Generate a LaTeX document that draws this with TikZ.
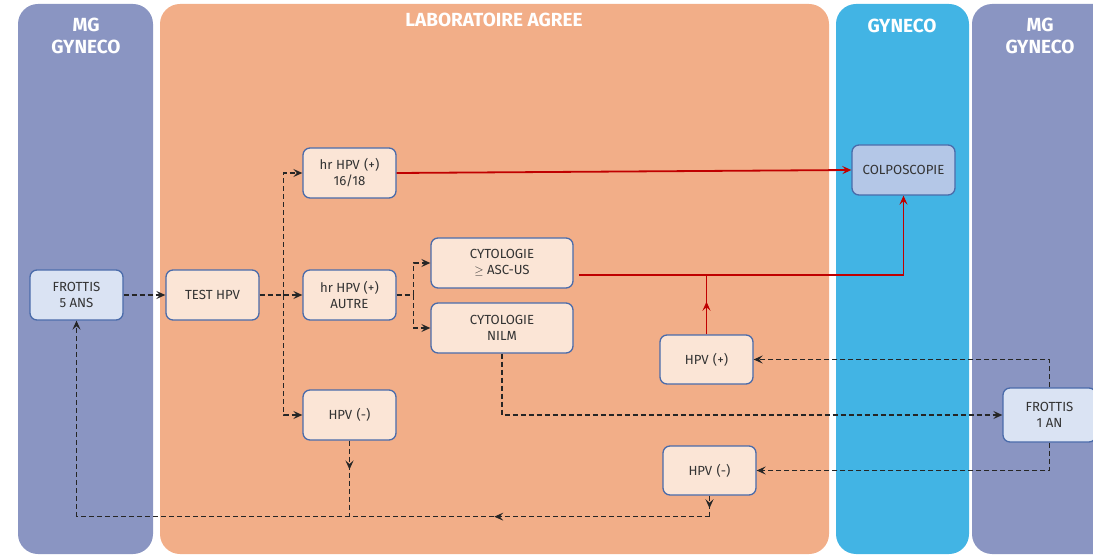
\documentclass[tikz,border=0pt]{standalone}
\usepackage{fontspec}
\setmainfont{Fira Sans}
\usetikzlibrary{arrows.meta,decorations.markings,calc}
\definecolor{lanemg}{HTML}{8A95C2}
\definecolor{lanelab}{HTML}{F2AE88}
\definecolor{lanegyn}{HTML}{42B4E4}
\definecolor{boxfill}{HTML}{FBE5D6}
\definecolor{boxblue}{HTML}{4A6BAA}
\definecolor{frotfill}{HTML}{DAE3F3}
\definecolor{colpfill}{HTML}{B4C7E7}
\definecolor{redcol}{HTML}{C00000}
\definecolor{txt}{HTML}{333333}
\begin{document}
\begin{tikzpicture}[x=1pt,y=-1pt,
  lane/.style={rounded corners=20pt},
  lanetitle/.style={text=white, font=\fontsize{19}{22}\selectfont\bfseries, align=center},
  box/.style={draw=boxblue, line width=1.3pt, rounded corners=7pt, fill=boxfill,
    minimum width=93pt, minimum height=50pt, align=center, inner sep=2pt,
    font=\fontsize{13.2}{16}\selectfont, text=txt},
  dashflow/.style={draw=black!85, line width=1.5pt, dash pattern=on 5pt off 3pt, -{Stealth[length=9pt,width=8pt,inset=3.5pt]}},
  dashseg/.style={draw=black!85, line width=1.5pt, dash pattern=on 5pt off 3pt},
  redflow/.style={draw=redcol, line width=1.8pt, -{Stealth[length=9pt,width=8pt,inset=3.5pt]}},
  redseg/.style={draw=redcol, line width=1.8pt},
  midarrow/.style={postaction={decorate}, decoration={markings, mark=at position #1 with {\arrow{Stealth[length=9pt,width=8pt,inset=3.5pt]}}}}
]
\useasboundingbox (0,0) rectangle (1093,556);
\clip (0,0) rectangle (1093,556);
% lanes
\fill[lanemg, lane] (18,4) rectangle (153,554);
\fill[lanelab, lane] (160,4) rectangle (829,554);
\fill[lanegyn, lane] (836,4) rectangle (969,554);
\fill[lanemg, lane] (972,4) rectangle (1140,554);
\node[lanetitle] (t1) at (86,36) {MG\\GYNECO};
\node[lanetitle] (t2) at (494,20) {LABORATOIRE AGREE};
\node[lanetitle] (t3) at (902,26) {GYNECO};
\node[lanetitle] (t4) at (1040,36) {MG\\GYNECO};
% nodes
\node[box, fill=frotfill] (f5) at (76.5,295) {FROTTIS\\5 ANS};
\node[box] (test) at (212.5,295) {TEST HPV};
\node[box] (hr16) at (349.5,173) {hr HPV\,\,(+)\\16/18};
\node[box] (hra) at (349.5,295) {hr HPV (+)\\AUTRE};
\node[box] (hpvm1) at (349.5,415) {HPV\,\,(-)};
\node[box, minimum width=142pt] (cyt1) at (502,263) {CYTOLOGIE\\$\geq$ ASC-US};
\node[box, minimum width=142pt] (nilm) at (502,328) {CYTOLOGIE\\NILM};
\node[box, minimum height=49pt] (hpvp) at (706.5,359.5) {HPV\,\,(+)};
\node[box, minimum height=49pt] (hpvm2) at (709.5,470.5) {HPV\,\,(-)};
\node[box, fill=colpfill, minimum width=103pt] (colp) at (903.5,170) {COLPOSCOPIE};
\node[box, fill=frotfill, minimum height=54pt] (f1) at (1049.5,415) {FROTTIS\\1 AN};
% connectors
\draw[dashflow] (f5) -- (test);
\draw[dashflow] (test.east) -- (hra.west);
\draw[dashflow] ($(test.east)+(24,0)$) |- (hr16.west);
\draw[dashflow] ($(test.east)+(24,0)$) |- (hpvm1.west);
\draw[dashseg] (hra.east) -- ++(17,0) coordinate (s2);
\draw[dashflow] (s2) |- (cyt1.west);
\draw[dashflow] (s2) |- (nilm.west);
\draw[redflow] (hr16.east) -- (colp.west);
\coordinate (rj) at ($(cyt1.east)+(5,12)$);
\draw[redflow] (rj) -| (colp.south);
\draw[redseg, midarrow=0.55] (hpvp.north) -- (hpvp.north |- rj);
\draw[dashflow] (nilm.south) |- (f1.west);
\draw[dashflow] (f1.north) |- (hpvp.east);
\draw[dashflow] (f1.south) |- (hpvm2.east);
\coordinate (b2) at ($(hpvm2.south)+(0,21)$);
\coordinate (b0) at (f5.south |- b2);
\draw[dashseg, midarrow=0.6] (hpvm2.south) -- (b2);
\draw[dashseg, midarrow=0.34] (b2) -- (b0);
\draw[dashflow] (b0) -- (f5.south);
\draw[dashseg, midarrow=0.38] (hpvm1.south) -- (hpvm1.south |- b2);
\end{tikzpicture}
\end{document}
